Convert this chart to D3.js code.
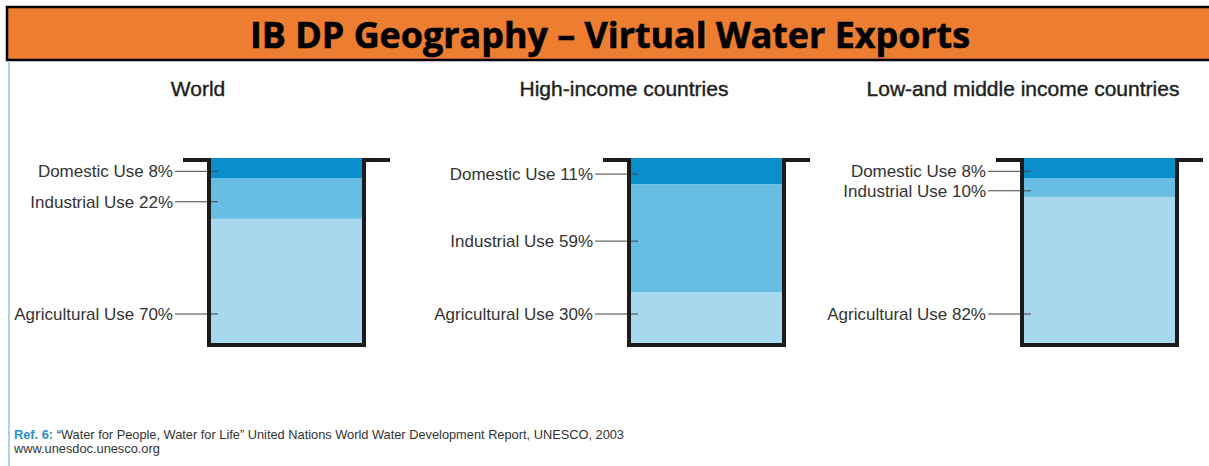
<!DOCTYPE html>
<html>
<head>
<meta charset="utf-8">
<script src="https://cdn.jsdelivr.net/npm/d3@7"></script>
<style>
  body { margin: 0; background: #fff; }
  svg { display: block; }
</style>
</head>
<body>
<svg id="chart"></svg>
<script>
var W = 1209, H = 466;

// data
var panels = ['World', 'High-income countries', 'Low-and middle income countries'];
var uses = ['Domestic Use', 'Industrial Use', 'Agricultural Use'];
var domestic = [8, 11, 8];
var industrial = [22, 59, 10];
var agricultural = [70, 30, 82];
var useColors = ['#0a8fcc', '#68bde2', '#a7d8ee'];

var svg = d3.select('#chart')
    .attr('width', W)
    .attr('height', H);

// header bar
svg.append('rect')
    .attr('x', 7).attr('y', 7)
    .attr('width', W + 10).attr('height', 53)
    .attr('fill', '#ed7d31')
    .attr('stroke', '#000')
    .attr('stroke-width', 2.5);
svg.append('text')
    .attr('x', 610).attr('y', 48)
    .attr('text-anchor', 'middle')
    .attr('font-family', 'Open Sans, sans-serif')
    .attr('font-weight', 'bold')
    .attr('font-size', 36)
    .attr('textLength', 720)
    .attr('lengthAdjust', 'spacingAndGlyphs')
    .attr('fill', '#000')
    .attr('stroke', '#000')
    .attr('stroke-width', 0.6)
    .text('IB DP Geography \u2013 Virtual Water Exports');

// thin blue rule down the left
svg.append('line')
    .attr('x1', 9).attr('x2', 9)
    .attr('y1', 61).attr('y2', H)
    .attr('stroke', '#a9d4ea')
    .attr('stroke-width', 2);

// layout scales
var wallX = d3.scaleOrdinal().domain(panels).range([209, 629, 1022]);
var titleX = d3.scaleOrdinal().domain(panels).range([198, 624, 1023]);
var bucketW = 155, rimW = 26, rimY = 160, bottomY = 345;
var y = d3.scaleLinear().domain([0, 100]).range([164, 347]);

var rows = panels.map(function(p, i) {
    var vals = [domestic[i], industrial[i], agricultural[i]];
    var cum = 0;
    var bands = vals.map(function(v, j) {
        var b = {use: uses[j], value: v, color: useColors[j], last: j === vals.length - 1};
        b.y0 = j === 0 ? rimY - 2 : y(cum);
        cum += v;
        b.y1 = b.last ? bottomY : y(cum);
        return b;
    });
    return {name: p, bands: bands};
});

var g = svg.selectAll('g.panel')
    .data(rows)
    .enter()
    .append('g')
    .attr('class', 'panel');

g.append('text')
    .attr('x', function(d) { return titleX(d.name); })
    .attr('y', 96)
    .attr('text-anchor', 'middle')
    .attr('font-family', 'Liberation Sans, Arial, sans-serif')
    .attr('font-size', 21)
    .attr('fill', '#1e1e1e')
    .attr('stroke', '#1e1e1e')
    .attr('stroke-width', 0.4)
    .text(function(d) { return d.name; });

// water layers
g.selectAll('rect.band')
    .data(function(d) { return d.bands.map(function(b) { b.x = wallX(d.name); return b; }); })
    .enter()
    .append('rect')
    .attr('class', 'band')
    .attr('x', function(d) { return d.x; })
    .attr('y', function(d) { return d.y0; })
    .attr('width', bucketW)
    .attr('height', function(d) { return d.y1 - d.y0; })
    .attr('fill', function(d) { return d.color; });

// leader lines + labels
function labelY(d) {
    if (d.last) return bottomY - 31;
    return (d.y0 + d.y1) / 2 + 3;
}
g.selectAll('line.leader')
    .data(function(d) { return d.bands; })
    .enter()
    .append('line')
    .attr('class', 'leader')
    .attr('x1', function(d) { return d.x - 34; })
    .attr('x2', function(d) { return d.x + 9; })
    .attr('y1', labelY)
    .attr('y2', labelY)
    .attr('stroke', '#444')
    .attr('stroke-width', 1);

g.selectAll('text.lab')
    .data(function(d) { return d.bands; })
    .enter()
    .append('text')
    .attr('class', 'lab')
    .attr('x', function(d) { return d.x - 36; })
    .attr('y', labelY)
    .attr('dy', '0.35em')
    .attr('text-anchor', 'end')
    .attr('font-family', 'Liberation Sans, Arial, sans-serif')
    .attr('font-size', 17)
    .attr('fill', '#333')
    .text(function(d) { return d.use + ' ' + d.value + '%'; });

// bucket outline
var outline = d3.line();
g.append('path')
    .attr('d', function(d) {
        var x0 = wallX(d.name), x1 = x0 + bucketW;
        return outline([[x0 - rimW, rimY], [x0, rimY], [x0, bottomY], [x1, bottomY], [x1, rimY], [x1 + rimW, rimY]]);
    })
    .attr('fill', 'none')
    .attr('stroke', '#1b1b1b')
    .attr('stroke-width', 4)
    .attr('stroke-linejoin', 'miter');

// source note
var ref = svg.append('text')
    .attr('x', 14).attr('y', 439)
    .attr('font-family', 'Liberation Sans, Arial, sans-serif')
    .attr('font-size', 12.8)
    .attr('fill', '#333');
ref.append('tspan')
    .attr('font-weight', 'bold')
    .attr('fill', '#2a8fd0')
    .text('Ref. 6:');
ref.append('tspan')
    .text(' \u201cWater for People, Water for Life\u201d United Nations World Water Development Report, UNESCO, 2003');
svg.append('text')
    .attr('x', 14).attr('y', 453)
    .attr('font-family', 'Liberation Sans, Arial, sans-serif')
    .attr('font-size', 12.8)
    .attr('fill', '#333')
    .text('www.unesdoc.unesco.org');
</script>
</body>
</html>
